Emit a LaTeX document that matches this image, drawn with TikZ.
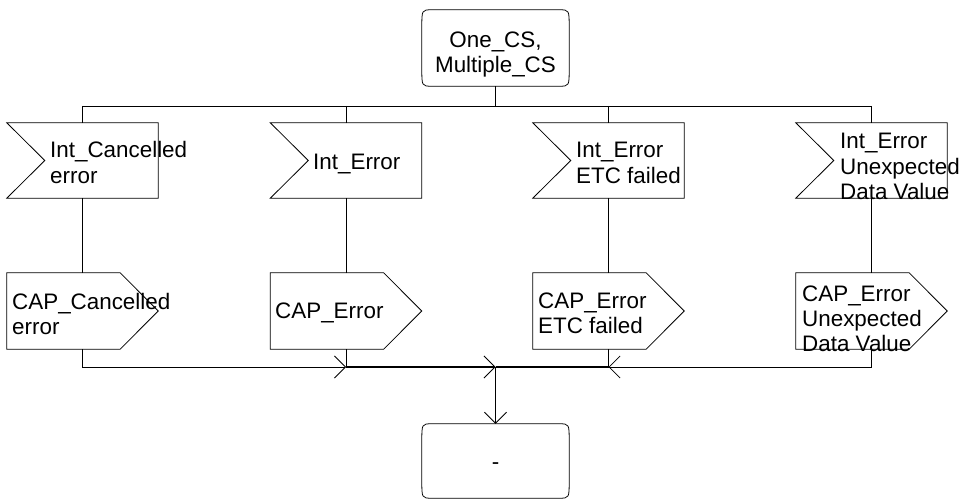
\documentclass[tikz,border=0pt]{standalone}
\usepackage{fontspec}
\setmainfont{Liberation Sans}
\usetikzlibrary{arrows.meta}
\newcommand\InOutline[1]{\draw[ln] (#1.north west) -- (#1.north east) -- (#1.south east) -- (#1.south west) -- ([xshift=38pt]#1.west) -- cycle;}
\newcommand\OutOutline[1]{\draw[ln] (#1.north west) -- ([xshift=-38pt]#1.north east) -- (#1.east) -- ([xshift=-38pt]#1.south east) -- (#1.south west) -- cycle;}
\newcommand\StateOutline[1]{\draw[ln]
  ([xshift=10pt]#1.north west) -- ([xshift=-10pt]#1.north east)
  .. controls (#1.north east) .. ([yshift=-18pt]#1.north east)
  -- ([yshift=18pt]#1.south east)
  .. controls (#1.south east) .. ([xshift=-10pt]#1.south east)
  -- ([xshift=10pt]#1.south west)
  .. controls (#1.south west) .. ([yshift=18pt]#1.south west)
  -- ([yshift=-18pt]#1.north west)
  .. controls (#1.north west) .. cycle;}
\begin{document}
\begin{tikzpicture}[x=1pt,y=-1pt,
  ln/.style={line width=0.8pt, draw=black},
  hv/.style={line width=1.5pt, draw=black},
  tip/.style={-{Straight Barb[length=11pt,width=22pt,line width=0.8pt]}},
  shp/.style={draw=none, inner sep=0pt, minimum width=151pt},
  stt/.style={draw=none, inner sep=0pt, minimum width=147pt},
  lbl/.style={inner sep=0pt, align=left, font=\fontsize{22.4}{25.5}\selectfont},
  clbl/.style={inner sep=0pt, align=center, font=\fontsize{22.4}{24.5}\selectfont},
]
\useasboundingbox (0,0) rectangle (963,502);
\fill[white] (0,0) rectangle (963,502);

% states
\node[stt, minimum height=76pt] (S1) at (495.5,48) {};
\node[stt, minimum height=74pt] (S2) at (495.5,461) {};
\StateOutline{S1}
\StateOutline{S2}
\node[clbl, anchor=base] (S1t) at (495.5,72.5) {One\_CS,\\Multiple\_CS};
\node[clbl, anchor=base] (S2t) at (495.5,469) {-};

% inputs
\node[shp, minimum height=75pt] (I1) at (82.5,160.5) {};
\node[shp, minimum height=75pt] (I2) at (346,160.5) {};
\node[shp, minimum height=75pt] (I3) at (608.5,160.5) {};
\node[shp, minimum height=75pt] (I4) at (871.5,160.5) {};
\InOutline{I1}\InOutline{I2}\InOutline{I3}\InOutline{I4}
\node[lbl, anchor=base west] (I1t) at (50,183.5) {Int\_Cancelled\\error};
\node[lbl, anchor=base west] (I2t) at (313,170) {Int\_Error};
\node[lbl, anchor=base west] (I3t) at (576,183.5) {Int\_Error\\ETC failed};
\node[lbl, anchor=base west] (I4t) at (840,200) {Int\_Error\\Unexpected\\Data Value};

% outputs
\node[shp, minimum height=76pt] (O1) at (82.5,311) {};
\node[shp, minimum height=76pt] (O2) at (346,311) {};
\node[shp, minimum height=76pt] (O3) at (608.5,311) {};
\node[shp, minimum height=76pt] (O4) at (871.5,311) {};
\OutOutline{O1}\OutOutline{O2}\OutOutline{O3}\OutOutline{O4}
\node[lbl, anchor=base west] (O1t) at (12,334.5) {CAP\_Cancelled\\error};
\node[lbl, anchor=base west] (O2t) at (275,319) {CAP\_Error};
\node[lbl, anchor=base west] (O3t) at (538,334) {CAP\_Error\\ETC failed};
\node[lbl, anchor=base west] (O4t) at (802,352) {CAP\_Error\\Unexpected\\Data Value};

% top distribution
\coordinate (tc) at (495.5,106);
\draw[ln] (S1.south) -- (tc);
\draw[ln] (I1.north |- tc) -- (I4.north |- tc);
\foreach \n in {I1,I2,I3,I4} \draw[ln] (\n.north |- tc) -- (\n.north);
\foreach \i/\o in {I1/O1,I2/O2,I3/O3,I4/O4} \draw[ln] (\i.south) -- (\o.north);

% merge
\coordinate (mc) at (495.5,367);
\draw[ln,tip] (O1.south) |- (O2.south |- mc);
\draw[ln] (O2.south) -- (O2.south |- mc);
\draw[hv,tip] (O2.south |- mc) -- (mc);
\draw[ln,tip] (O4.south) |- (O3.south |- mc);
\draw[ln] (O3.south) -- (O3.south |- mc);
\draw[hv] (O3.south |- mc) -- (mc);
\draw[hv,tip] (mc) -- (S2.north);
\end{tikzpicture}
\end{document}
